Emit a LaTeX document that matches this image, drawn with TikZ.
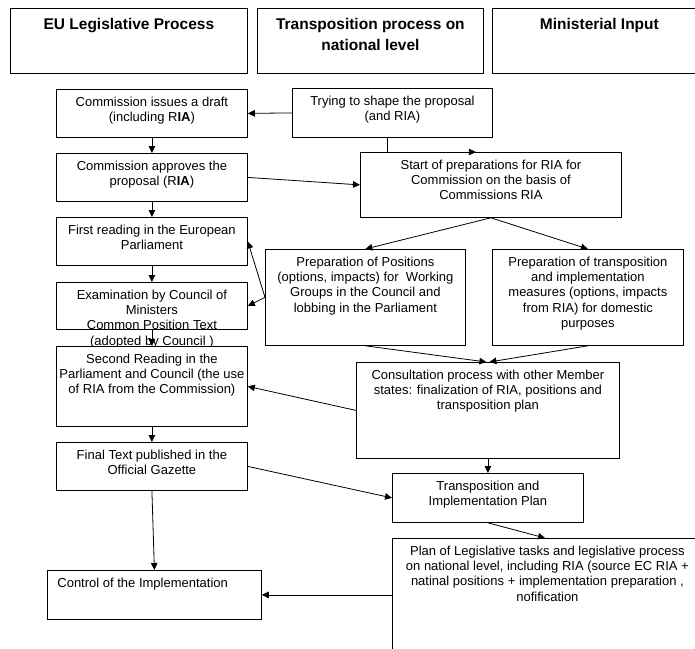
\documentclass[tikz,border=0pt]{standalone}
\usepackage{fontspec}
\setmainfont{Liberation Sans}
\usetikzlibrary{arrows.meta}

% text set at the top of a box of fixed size
\newcommand{\boxtext}[3]{\parbox[t][#2][t]{#1}{\centering\vspace*{6pt}\strut #3}}

\tikzset{
  box/.style={draw, fill=white, anchor=north west, inner sep=0pt, line width=0.8pt,
    font=\fontsize{13}{15.3}\selectfont},
  head/.style={box, font=\fontsize{15.5}{21}\selectfont\bfseries},
  flow/.style={-{Triangle[length=7pt,width=6.5pt]}, line width=0.8pt},
}

\begin{document}
\begin{tikzpicture}[x=1pt, y=-1pt]
\useasboundingbox (0,0) rectangle (695,648);
\clip (0,0) rectangle (695,648);

% column heads
\node[head] (eu)   at (10,8)  {\boxtext{237pt}{65pt}{EU Legislative Process}};
\node[head] (nat)  at (257,8) {\boxtext{226pt}{65pt}{Transposition process on\\national level}};
\node[head] (mini) at (492,8) {\boxtext{214pt}{65pt}{Ministerial Input}};

% EU legislative process
\node[box] (draft)   at (56,89)  {\boxtext{191pt}{48pt}{Commission issues a draft\\(including R\textbf{IA})}};
\node[box] (approve) at (56,153) {\boxtext{191pt}{48pt}{Commission approves the\\proposal (R\textbf{IA})}};
\node[box] (first)   at (56,217) {\boxtext{191pt}{48pt}{First reading in the European\\Parliament}};
\node[box] (exam)    at (56,282) {\boxtext{191pt}{47pt}{Examination by Council of\\Ministers\\Common Position Text\\(adopted by Council )}};
\node[box] (second)  at (56,346) {\boxtext{191pt}{80pt}{Second Reading in the\\Parliament and Council (the use\\of RIA from the Commission)}};
\node[box] (final)   at (56,442) {\boxtext{191pt}{48pt}{Final Text published in the\\Official Gazette}};
\node[box] (control) at (47,570) {\boxtext{214pt}{49pt}{\raggedright\hspace*{10pt}Control of the Implementation}};

% national level
\node[box] (shape)     at (292,88)  {\boxtext{200pt}{49pt}{Trying to shape the proposal\\(and RIA)}};
\node[box] (start)     at (360,152) {\boxtext{261pt}{65pt}{Start of preparations for RIA for\\Commission on the basis of\\Commissions RIA}};
\node[box] (positions) at (265,249) {\boxtext{200pt}{96pt}{Preparation of Positions\\(options, impacts) for\ \ Working\\Groups in the Council and\\lobbing in the Parliament}};
\node[box] (measures)  at (492,249) {\boxtext{191pt}{96pt}{Preparation of transposition\\and implementation\\measures (options, impacts\\from RIA) for domestic\\purposes}};
\node[box] (consult)   at (356,362) {\boxtext{263pt}{96pt}{Consultation process with other Member\\states: finalization of RIA, positions and\\transposition plan}};
\node[box] (tplan)     at (392,473) {\boxtext{191pt}{49pt}{Transposition and\\Implementation Plan}};
\node[box] (plan)      at (392,538) {\boxtext{310pt}{130pt}{Plan of Legislative tasks and legislative process\\on national level, including RIA (source EC RIA +\\natinal positions + implementation preparation ,\\nofification}};

% connectors
\draw[flow] (draft.south) -- (approve.north);
\draw[flow] (approve.south) -- (first.north);
\draw[flow] (first.south) -- (exam.north);
\draw[flow] (exam.south) -- (second.north);
\draw[flow] (second.south) -- (final.north);
\draw[flow] (final.south) -- (control.north);

\draw[flow] (shape.west) -- (draft.east);
\draw[flow] ([xshift=-5pt]shape.south) |- ([xshift=-15pt]start.north);
\draw[flow] (approve.east) -- (start.west);
\draw[flow] (start.south) -- (positions.north);
\draw[flow] (start.south) -- (measures.north);
\draw[flow] (positions.west) -- (first.east);
\draw[flow] (positions.west) -- (exam.east);
\draw[flow] (positions.south) -- ([xshift=-1.5pt]consult.north);
\draw[flow] (measures.south) -- ([xshift=1.5pt]consult.north);
\draw[flow] (consult.west) -- (second.east);
\draw[flow] (consult.south) -- (tplan.north);
\draw[flow] (final.east) -- (tplan.west);
\draw[flow] (tplan.south) -- ([xshift=153pt]plan.north west);
\draw[flow] (control.east -| plan.west) -- (control.east);
\end{tikzpicture}
\end{document}
